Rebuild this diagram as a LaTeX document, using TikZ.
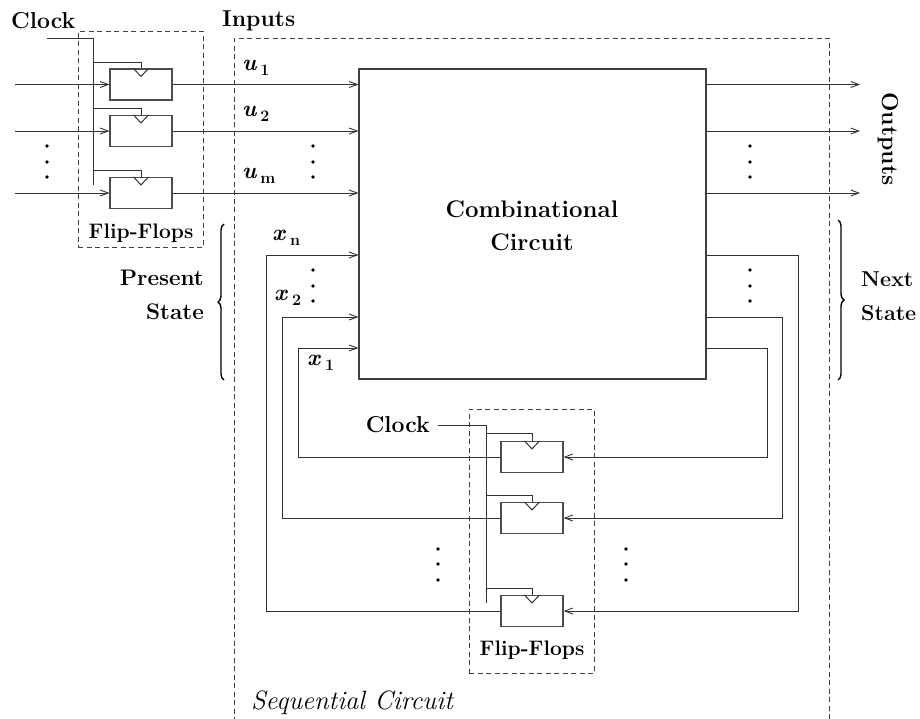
\documentclass[tikz,border=0pt]{standalone}
\usepackage{fontspec}
\usetikzlibrary{arrows.meta,decorations.pathreplacing,calc}
\begin{document}
\begin{tikzpicture}[x=1pt,y=-1pt,
  wire/.style={draw=black!80, line width=1pt},
  arr/.style={wire,-{Straight Barb[length=8pt,width=6pt,line width=0.9pt]}},
  ffbox/.style={draw=black!70, line width=1.1pt, minimum width=62pt, minimum height=31pt, inner sep=0pt},
  dbox/.style={draw=black!75, line width=0.9pt, dash pattern=on 5pt off 3.5pt},
  lbl/.style={font=\fontsize{23}{26}\selectfont\bfseries, inner sep=0pt},
  small/.style={font=\fontsize{21}{22}\selectfont\bfseries, inner sep=0pt},
  var/.style={font=\fontsize{23}{26}\selectfont\bfseries\itshape, inner sep=0pt},
  dotm/.style={fill=black, circle, inner sep=0pt, minimum size=3.8pt},
  brc/.style={decorate, decoration={brace, amplitude=6pt}, line width=1.4pt}
]
\useasboundingbox (0,0) rectangle (920,718);

% ---------- top-left flip-flops ----------
\node[ffbox] (f1) at (141,84.5) {};
\node[ffbox] (f2) at (141,131) {};
\node[ffbox] (f3) at (141,193) {};
\foreach \f in {f1,f2,f3}{
  \draw[wire] ($(\f.north)+(-7.5,0)$) -- ($(\f.north)+(0,8)$) -- ($(\f.north)+(7.5,0)$);
}
\node[lbl, anchor=west] (clockA) at (11,21) {Clock};
\coordinate (cA0) at (47,38);
\coordinate (cA1) at (93,38);
\coordinate (cAe) at (93,185);
\draw[wire] (cA0) -- (cA1) -- (cAe);
\coordinate (bA1) at (93,62);
\coordinate (bA2) at (93,108);
\coordinate (bA3) at (93,170);
\draw[wire] (bA1) -| (f1.north);
\draw[wire] (bA2) -| (f2.north);
\draw[wire] (bA3) -| (f3.north);

\coordinate (i1) at (15,84.5);
\coordinate (i2) at (15,131);
\coordinate (i3) at (15,193);
\draw[arr] (i1) -- (f1.west);
\draw[arr] (i2) -- (f2.west);
\draw[arr] (i3) -- (f3.west);

\node[dbox, minimum width=125pt, minimum height=216pt, inner sep=0pt] (ffA) at (140.5,139) {};
\node[small] (ffAl) at (141,233) {Flip-Flops};
\foreach \yy in {146,162,177} \node[dotm] at (47,\yy) {};

% ---------- sequential circuit frame ----------
\coordinate (s0) at (234,722);
\coordinate (s1) at (234,38);
\coordinate (s2) at (829,38);
\coordinate (s3) at (829,722);
\draw[dbox] (s0) -- (s1) -- (s2) -- (s3);
\node[lbl, anchor=west] (inputs) at (222,21) {Inputs};
\node[font=\fontsize{26.5}{28}\selectfont\itshape, inner sep=0pt] (seq) at (352,703) {Sequential Circuit};

% ---------- combinational circuit ----------
\node[draw=black!75, line width=1.1pt, minimum width=347pt, minimum height=310pt, inner sep=0pt] (comb) at (532.5,224) {};
\node[lbl, align=center, font=\fontsize{24}{33}\selectfont\bfseries] (combl) at (532,226) {Combinational\\Circuit};

\draw[arr] (f1.east) -- (f1.east -| comb.west);
\draw[arr] (f2.east) -- (f2.east -| comb.west);
\draw[arr] (f3.east) -- (f3.east -| comb.west);

\node[var, anchor=west] (u1) at (242,68) {u\raisebox{-0.5ex}{\hspace{4pt}\upshape\fontsize{16}{16}\selectfont 1}};
\node[var, anchor=west] (u2) at (242,114) {u\raisebox{-0.5ex}{\hspace{4pt}\upshape\fontsize{16}{16}\selectfont 2}};
\node[var, anchor=west] (um) at (242,176) {u\raisebox{-0.5ex}{\hspace{4pt}\upshape\fontsize{16}{16}\selectfont m}};
\foreach \yy in {146,162,177} \node[dotm] at (313,\yy) {};

% outputs
\coordinate (o1) at (860,84.5);
\coordinate (o2) at (860,131);
\coordinate (o3) at (860,193);
\draw[arr] (o1 -| comb.east) -- (o1);
\draw[arr] (o2 -| comb.east) -- (o2);
\draw[arr] (o3 -| comb.east) -- (o3);
\foreach \yy in {146,162,177} \node[dotm] at (750,\yy) {};
\node[lbl, rotate=-90] (outl) at (888,139) {Outputs};

% ---------- bottom flip-flops ----------
\node[ffbox] (g1) at (532,457) {};
\node[ffbox] (g2) at (532,518) {};
\node[ffbox] (g3) at (532,611) {};
\foreach \f in {g1,g2,g3}{
  \draw[wire] ($(\f.north)+(-7.5,0)$) -- ($(\f.north)+(0,8)$) -- ($(\f.north)+(7.5,0)$);
}
\node[lbl, anchor=east] (clockB) at (430,425) {Clock};
\coordinate (cB0) at (438,425);
\coordinate (cB1) at (486,425);
\coordinate (cBe) at (486,603);
\draw[wire] (cB0) -- (cB1) -- (cBe);
\coordinate (bB1) at (486,433);
\coordinate (bB2) at (486,495);
\coordinate (bB3) at (486,588);
\draw[wire] (bB1) -| (g1.north);
\draw[wire] (bB2) -| (g2.north);
\draw[wire] (bB3) -| (g3.north);
\node[dbox, minimum width=125pt, minimum height=264pt, inner sep=0pt] (ffB) at (531.5,541) {};
\node[small] (ffBl) at (532,650) {Flip-Flops};
\foreach \yy in {549,564,580} {\node[dotm] at (438,\yy) {}; \node[dotm] at (626,\yy) {};}

% feedback: next state -> flip-flops
\coordinate (r1) at (798,255);
\coordinate (r2) at (782,317);
\coordinate (r3) at (767,348);
\draw[arr] (r1 -| comb.east) -- (r1) |- (g3.east);
\draw[arr] (r2 -| comb.east) -- (r2) |- (g2.east);
\draw[arr] (r3 -| comb.east) -- (r3) |- (g1.east);
\foreach \yy in {270,286,301} \node[dotm] at (750,\yy) {};

% feedback: flip-flops -> present state
\coordinate (l1) at (298,348);
\coordinate (l2) at (282,317);
\coordinate (l3) at (266,255);
\draw[arr] (g1.west) -| (l1) -- (l1 -| comb.west);
\draw[arr] (g2.west) -| (l2) -- (l2 -| comb.west);
\draw[arr] (g3.west) -| (l3) -- (l3 -| comb.west);
\foreach \yy in {270,286,301} \node[dotm] at (313,\yy) {};

\node[var, anchor=west] (xn) at (272,238) {x\raisebox{-0.5ex}{\hspace{5pt}\upshape\fontsize{16}{16}\selectfont n}};
\node[var, anchor=west] (x2) at (274,298) {x\raisebox{-0.5ex}{\hspace{5pt}\upshape\fontsize{16}{16}\selectfont 2}};
\node[var, anchor=west] (x1) at (307,363) {x\raisebox{-0.5ex}{\hspace{5pt}\upshape\fontsize{16}{16}\selectfont 1}};

% braces
\coordinate (pb0) at (224,380);
\coordinate (pb1) at (224,224);
\draw[brc] (pb0) -- (pb1);
\node[lbl, align=right, anchor=east, font=\fontsize{22.5}{34}\selectfont\bfseries] (pst) at (204,295) {Present\\State};
\coordinate (nb0) at (838,220);
\coordinate (nb1) at (838,380);
\draw[brc] (nb0) -- (nb1);
\node[lbl, align=left, anchor=west, font=\fontsize{21.5}{34}\selectfont\bfseries] (nst) at (861,296) {Next\\State};
\end{tikzpicture}
\end{document}
